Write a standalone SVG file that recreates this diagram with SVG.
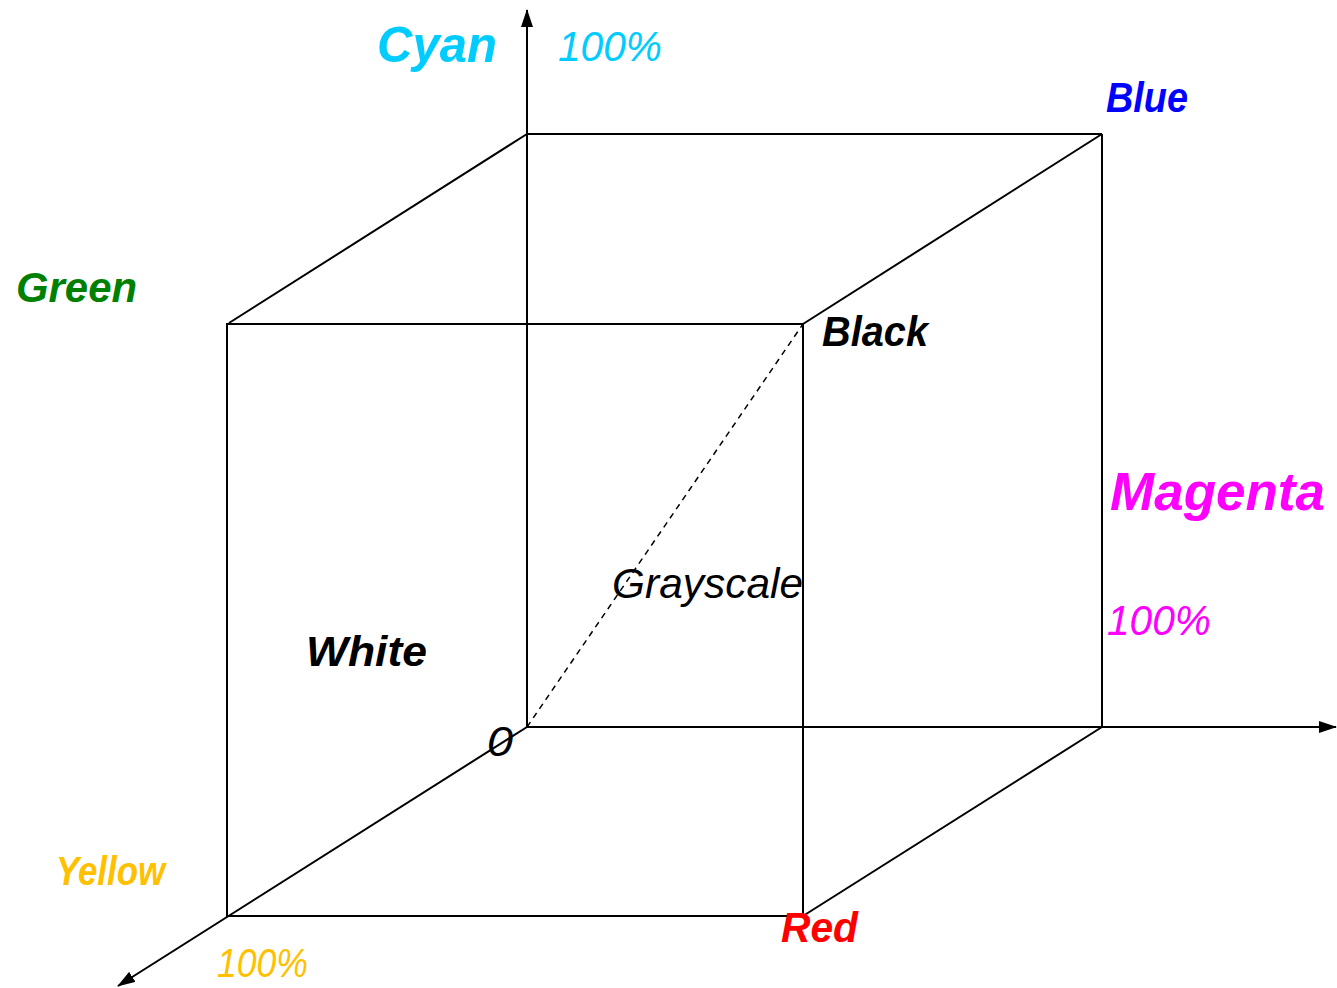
<svg xmlns="http://www.w3.org/2000/svg" width="1337" height="988" viewBox="0 0 1337 988">
<style>
.e{stroke:#000;stroke-width:2;fill:none}
.ax{stroke:#000;stroke-width:2;fill:none;marker-end:url(#ar)}
.d{stroke:#000;stroke-width:1.5;fill:none;stroke-dasharray:6 5}
text{font-family:"Liberation Sans","DejaVu Sans",sans-serif;font-style:italic}
.b{font-weight:bold}
</style>
<defs>
<marker id="ar" viewBox="0 0 18 12" refX="17" refY="6" markerWidth="18" markerHeight="12" markerUnits="userSpaceOnUse" orient="auto">
<path d="M0,0 L18,6 L0,12 z" fill="#000"/>
</marker>
</defs>
<rect width="1337" height="988" fill="#fff"/>
<g id="connectors">
<line class="ax" x1="527" y1="727" x2="527" y2="10"/>
<line class="ax" x1="527" y1="727" x2="1336" y2="727"/>
<line class="ax" x1="527" y1="727" x2="118" y2="986"/>
<line class="e" x1="527" y1="134" x2="1102" y2="134"/>
<line class="e" x1="1102" y1="134" x2="1102" y2="727"/>
<line class="e" x1="527" y1="134" x2="229" y2="323"/>
<line class="e" x1="1102" y1="134" x2="803" y2="324"/>
<line class="e" x1="1102" y1="727" x2="803" y2="916"/>
<rect class="e" x="227" y="324" width="576" height="592"/>
<line class="d" x1="527" y1="727" x2="803" y2="324"/>
</g>
<g id="labels">
<text class="b" x="377" y="62" font-size="50" fill="#00ccff" textLength="120" lengthAdjust="spacingAndGlyphs">Cyan</text>
<text x="558" y="61" font-size="42" fill="#00ccff" textLength="104" lengthAdjust="spacingAndGlyphs">100%</text>
<text class="b" x="1106" y="112" font-size="42" fill="#0000ff" textLength="82" lengthAdjust="spacingAndGlyphs">Blue</text>
<text class="b" x="16" y="302" font-size="42" fill="#008000" textLength="121" lengthAdjust="spacingAndGlyphs">Green</text>
<text class="b" x="822" y="346" font-size="42" fill="#000" textLength="106" lengthAdjust="spacingAndGlyphs">Black</text>
<text class="b" x="1110" y="510" font-size="54" fill="#ff00ff" textLength="215" lengthAdjust="spacingAndGlyphs">Magenta</text>
<text x="1107" y="635" font-size="42" fill="#ff00ff" textLength="104" lengthAdjust="spacingAndGlyphs">100%</text>
<text x="612" y="598" font-size="42" fill="#000" textLength="191" lengthAdjust="spacingAndGlyphs">Grayscale</text>
<text class="b" x="306" y="666" font-size="42" fill="#000" textLength="121" lengthAdjust="spacingAndGlyphs">White</text>
<text x="487" y="756" font-size="42" fill="#000" textLength="26" lengthAdjust="spacingAndGlyphs">0</text>
<text class="b" x="56" y="885" font-size="40" fill="#ffc000" textLength="109" lengthAdjust="spacingAndGlyphs">Yellow</text>
<text x="217" y="977" font-size="40" fill="#ffc000" textLength="91" lengthAdjust="spacingAndGlyphs">100%</text>
<text class="b" x="781" y="942" font-size="42" fill="#ff0000" textLength="77" lengthAdjust="spacingAndGlyphs">Red</text>
</g>
</svg>
